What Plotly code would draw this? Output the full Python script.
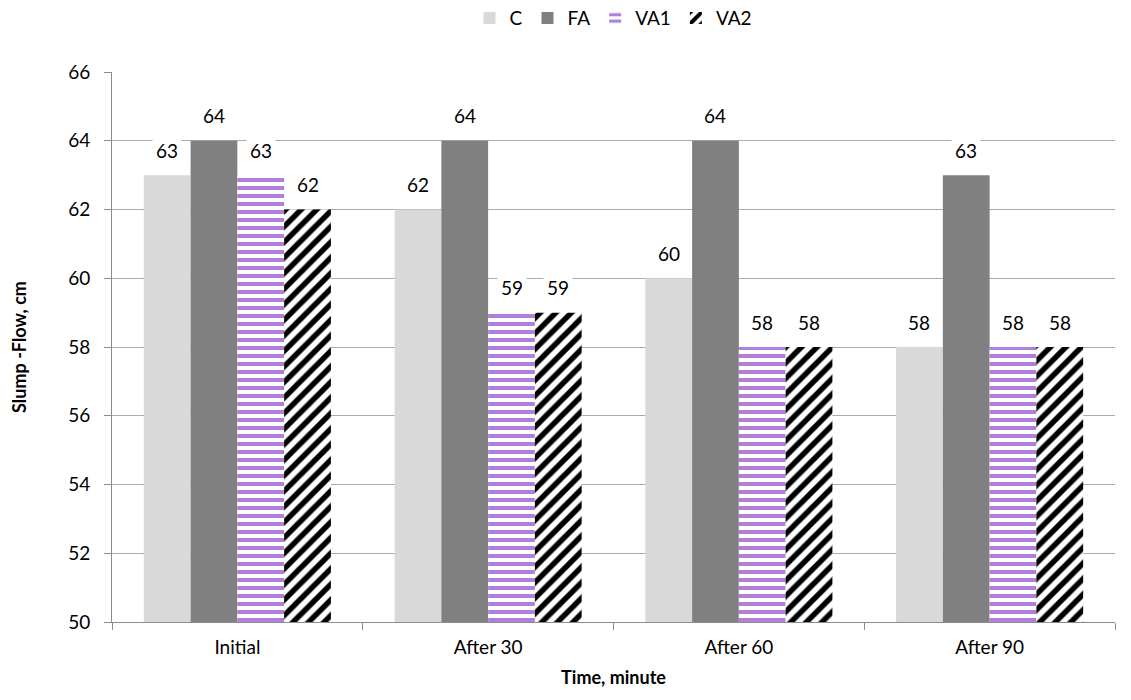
import plotly.graph_objects as go

categories = ["Initial", "After 30", "After 60", "After 90"]
series_names = ["C", "FA", "VA1", "VA2"]
c_vals = [63, 62, 60, 58]
fa_vals = [64, 64, 64, 63]
va1_vals = [63, 59, 58, 58]
va2_vals = [62, 59, 58, 58]
y_ticks = [50, 52, 54, 56, 58, 60, 62, 64, 66]

FONT = "Lato"
FS = 19
W, H = 1131, 700
ML, MR, MT, MB = 112, 16, 72, 78
BARGAP = 0.254

fig = go.Figure()

styles = [
    dict(color="#D9D9D9"),
    dict(color="#808080"),
    dict(color="white", pattern=dict(shape="-", fgcolor="#B07FDB", bgcolor="white", size=8, solidity=0.5, fillmode="replace")),
    dict(color="white", pattern=dict(shape="/", fgcolor="black", bgcolor="white", size=11, solidity=0.5, fillmode="replace")),
]
all_vals = [c_vals, fa_vals, va1_vals, va2_vals]
for name, vals, st in zip(series_names, all_vals, styles):
    fig.add_trace(go.Bar(
        x=categories, y=[v - 50 for v in vals], base=50, name=name,
        marker=dict(line=dict(width=0), **st),
    ))

# data labels with white boxes (like the original chart)
cat_px = (W - ML - MR) / len(categories)
bar_px = cat_px * (1 - BARGAP) / len(series_names)
n = len(series_names)
for i, vals in enumerate(all_vals):
    for cat, v in zip(categories, vals):
        fig.add_annotation(
            x=cat, y=v, text=str(v), showarrow=False,
            xshift=(i - (n - 1) / 2) * bar_px, yshift=25,
            yanchor="middle", bgcolor="white", borderpad=3,
            font=dict(family=FONT, size=FS, color="black"),
        )

fig.update_layout(
    width=W, height=H,
    margin=dict(l=ML, r=MR, t=MT, b=MB, autoexpand=False),
    plot_bgcolor="white", paper_bgcolor="white",
    barmode="group", bargap=BARGAP, bargroupgap=0,
    font=dict(family=FONT, size=FS, color="black"),
    legend=dict(orientation="h", x=0.5, xanchor="center", y=1.098, yanchor="middle",
                font=dict(family=FONT, size=FS), traceorder="normal", itemwidth=30),
)
fig.update_yaxes(
    range=[50, 66], tickvals=y_ticks, showgrid=True, gridcolor="#ABABAB", gridwidth=1,
    showline=True, linecolor="#8C8C8C", linewidth=1, ticks="outside", ticklen=7, tickcolor="#8C8C8C",
    zeroline=False, ticklabelstandoff=10,
    title=dict(text="<b>Slump -Flow, cm</b>", font=dict(family=FONT, size=FS - 1), standoff=36),
)
fig.update_xaxes(
    showline=True, linecolor="#8C8C8C", linewidth=1, ticks="outside", ticklen=7, tickcolor="#8C8C8C",
    tickson="boundaries", ticklabelstandoff=8,
    title=dict(text="<b>Time, minute</b>", font=dict(family=FONT, size=FS - 1), standoff=14),
)
fig.write_html("out.html")
